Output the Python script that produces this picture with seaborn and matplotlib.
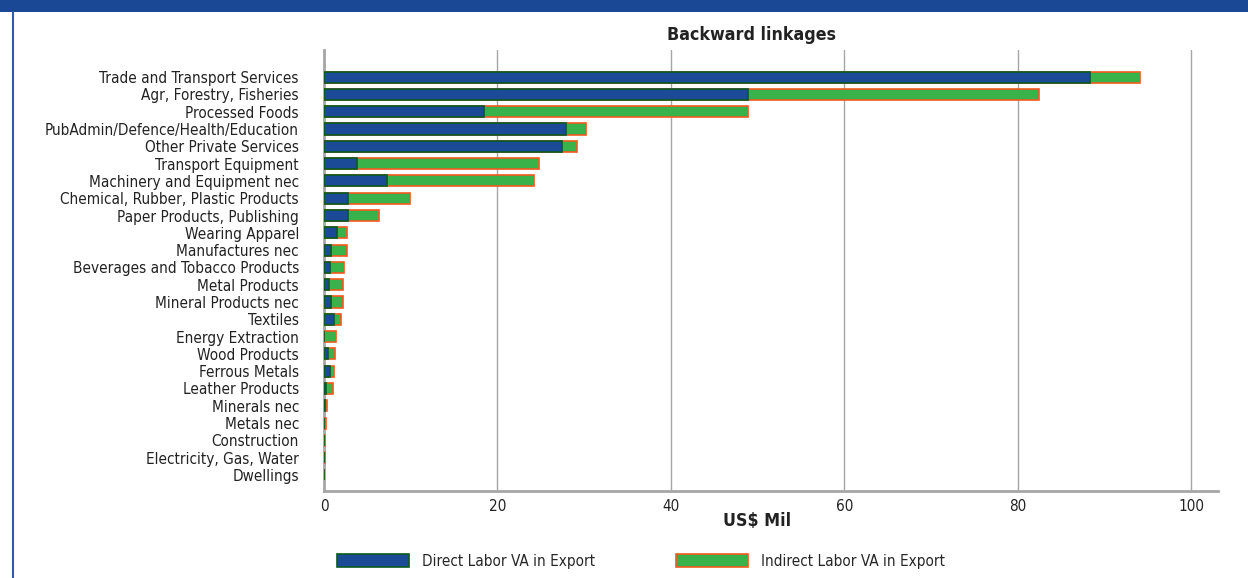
import numpy as np
import pandas as pd
import matplotlib
matplotlib.use("Agg")
import matplotlib.pyplot as plt
import seaborn as sns
from matplotlib.patches import Patch, Rectangle

sectors = ["Trade and Transport Services", "Agr, Forestry, Fisheries", "Processed Foods",
           "PubAdmin/Defence/Health/Education", "Other Private Services", "Transport Equipment",
           "Machinery and Equipment nec", "Chemical, Rubber, Plastic Products",
           "Paper Products, Publishing", "Wearing Apparel", "Manufactures nec",
           "Beverages and Tobacco Products", "Metal Products", "Mineral Products nec",
           "Textiles", "Energy Extraction", "Wood Products", "Ferrous Metals",
           "Leather Products", "Minerals nec", "Metals nec", "Construction",
           "Electricity, Gas, Water", "Dwellings"]
direct = [88.3, 48.9, 18.4, 27.9, 27.5, 3.8, 7.3, 2.8, 2.8, 1.5, 0.8,
          0.7, 0.55, 0.8, 1.1, 0.05, 0.5, 0.7, 0.25, 0.1, 0.02, 0.0, 0.0, 0.0]
indirect = [5.8, 33.6, 30.5, 2.3, 1.7, 21.0, 16.9, 7.1, 3.5, 1.2, 1.8,
            1.6, 1.7, 1.4, 0.9, 1.35, 0.8, 0.5, 0.75, 0.28, 0.18, 0.15, 0.06, 0.04]

df = pd.DataFrame({"sector": sectors, "direct": direct, "indirect": indirect})
df["total"] = df["direct"] + df["indirect"]

blue = "#1B4A96"
green = "#39B24A"
dark_green = "#0B5A1E"
orange = "#F05A1E"
grey = "#A6A6A6"

sns.set_style("white")
plt.rcParams["font.family"] = ["DejaVu Sans"]
plt.rcParams["font.stretch"] = "condensed"

fig = plt.figure(figsize=(12.48, 5.78), dpi=100)
ax = fig.add_axes([0.2596, 0.1505, 0.7164, 0.763])

# total first (green / indirect part shows), direct drawn over it
sns.barplot(data=df, x="total", y="sector", color=green, edgecolor=orange,
            linewidth=1.2, width=0.64, saturation=1, ax=ax, zorder=3)
sns.barplot(data=df, x="direct", y="sector", color=blue, edgecolor=dark_green,
            linewidth=1.2, width=0.64, saturation=1, ax=ax, zorder=4)

ax.set_xlim(0, 103.1)
ax.set_ylim(len(sectors) - 1 + 0.93, -1.57)
ax.set_xticks([0, 20, 40, 60, 80, 100])
ax.xaxis.grid(True, color=grey, linewidth=1, zorder=0)
ax.set_axisbelow(True)
sns.despine(ax=ax, top=True, right=True)
for s in ["left", "bottom"]:
    ax.spines[s].set_color(grey)
    ax.spines[s].set_linewidth(2)
ax.tick_params(axis="x", length=4, color=grey, labelsize=11, pad=2, labelcolor="#222222")
ax.tick_params(axis="y", length=0, labelsize=11, pad=18, labelcolor="#222222")
ax.set_xlabel("")
ax.set_ylabel("")

fig.text(0.602, 0.94, "Backward linkages", ha="center", va="center",
         fontsize=12.8, fontweight="bold", color="#222222")
fig.text(0.607, 0.098, "US$ Mil", ha="center", va="center",
         fontsize=12.8, fontweight="bold", color="#222222")

# header band and frame line
fig.patches.append(Rectangle((0, 1 - 12 / 578), 1, 12 / 578, transform=fig.transFigure,
                             facecolor="#1B4894", edgecolor="none", zorder=0))
fig.add_artist(plt.Line2D([12.5 / 1248, 12.5 / 1248], [0, 1 - 12 / 578],
                          transform=fig.transFigure, color="#2F5BAA", linewidth=1.5))

handles = [Patch(facecolor=blue, edgecolor=dark_green, linewidth=1.2),
           Patch(facecolor=green, edgecolor=orange, linewidth=1.2)]
fig.legend(handles, ["Direct Labor VA in Export", "Indirect Labor VA in Export"],
           loc="center left", bbox_to_anchor=(0.2588, 0.029), ncol=2, frameon=False,
           handlelength=4.7, handleheight=0.95, columnspacing=5.27, handletextpad=0.9,
           fontsize=11)

fig.savefig("out.png", dpi=100)
